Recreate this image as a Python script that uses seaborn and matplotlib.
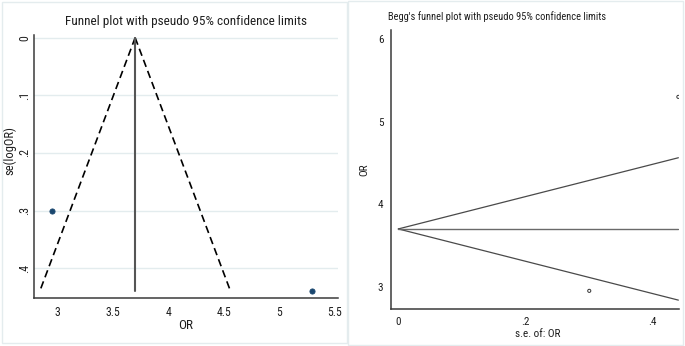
import matplotlib
matplotlib.use("Agg")
import matplotlib.pyplot as plt
import numpy as np
import pandas as pd
import seaborn as sns
from matplotlib.patches import Rectangle

# study-level data (two studies)
odds_ratio = [2.95, 5.30]
se_log_or = [0.30, 0.44]
se_or = [0.30, 0.44]
pooled_or = 3.7

left_xticks = [3, 3.5, 4, 4.5, 5, 5.5]
left_xticklabels = ["3", "3.5", "4", "4.5", "5", "5.5"]
left_yticks = [0, 0.1, 0.2, 0.3, 0.4]
left_yticklabels = ["0", ".1", ".2", ".3", ".4"]
right_xticks = [0, 0.2, 0.4]
right_xticklabels = ["0", ".2", ".4"]
right_yticks = [3, 4, 5, 6]
right_yticklabels = ["3", "4", "5", "6"]

sns.set_theme(style="white")
plt.rcParams["font.family"] = ["Roboto Condensed", "Liberation Sans", "DejaVu Sans"]

df = pd.DataFrame({"OR": odds_ratio, "se_log": se_log_or, "se_or": se_or})

W, H = 685, 346
fig = plt.figure(figsize=(W / 100, H / 100), dpi=100)
fig.patch.set_facecolor("white")

# faint panel frames
fig.add_artist(Rectangle((1.5 / W, 3 / H), 345 / W, 341.5 / H, transform=fig.transFigure,
                         fill=False, edgecolor="#e4ecee", lw=1))
fig.add_artist(Rectangle((348 / W, 1 / H), 335 / W, 344 / H, transform=fig.transFigure,
                         fill=False, edgecolor="#e4ecee", lw=1))

axis_col = "#3a3a3a"
text_col = "#1e1e1e"

# ---------------- left: funnel plot ----------------
ax1 = fig.add_axes([34 / W, (H - 298) / H, 304 / W, 263.2 / H])
se_max = max(se_log_or)
se_line = np.array([0.0, se_max])
for y in left_yticks:
    ax1.axhline(y, color="#e3ecee", lw=1, zorder=0)
ax1.plot(pooled_or - 1.96 * se_line, se_line, color="black", lw=1.2,
         dashes=(4.5, 2.6))
ax1.plot(pooled_or + 1.96 * se_line, se_line, color="black", lw=1.2,
         dashes=(4.5, 2.6))
ax1.plot([pooled_or, pooled_or], se_line, color="#555555", lw=1.5)
sns.scatterplot(data=df, x="OR", y="se_log", ax=ax1, color="#1a476f", s=14,
                edgecolor="#1a476f", linewidth=0.6, zorder=5)
ax1.set_xlim(2.786, 5.533)
ax1.set_ylim(0.4515, -0.005)
ax1.set_xticks(left_xticks)
ax1.set_xticklabels(left_xticklabels)
ax1.set_yticks(left_yticks)
ax1.set_yticklabels(left_yticklabels, rotation=90, va="center")
ax1.set_xlabel("OR", fontsize=9.5)
ax1.set_ylabel("se(logOR)", fontsize=9)
ax1.xaxis.set_label_coords((186 - 34) / 304, (298 - 319) / 263.2)
ax1.yaxis.set_label_coords((16 - 34) / 304, (298 - 151) / 263.2)
ax1.tick_params(labelsize=8.5)
fig.text(186 / W, 1 - 21 / H, "Funnel plot with pseudo 95% confidence limits",
         fontsize=9.5, ha="center", va="center", color=text_col)

# ---------------- right: Begg's funnel plot ----------------
ax2 = fig.add_axes([391 / W, (H - 309) / H, 288 / W, 279 / H])
se_max2 = max(se_or)
se_line2 = np.array([0.0, se_max2])
ax2.plot(se_line2, pooled_or + 1.96 * se_line2, color="#4a4a4a", lw=0.9)
ax2.plot(se_line2, pooled_or - 1.96 * se_line2, color="#4a4a4a", lw=0.9)
ax2.plot(se_line2, [pooled_or, pooled_or], color="#6a6a6a", lw=1.0)
sns.scatterplot(data=df, x="se_or", y="OR", ax=ax2, s=5, facecolor="none",
                edgecolor="#333333", linewidth=0.7, zorder=5)
ax2.set_xlim(-0.0115, 0.441)
ax2.set_ylim(2.73, 6.11)
ax2.set_xticks(right_xticks)
ax2.set_xticklabels(right_xticklabels)
ax2.set_yticks(right_yticks)
ax2.set_yticklabels(right_yticklabels)
ax2.set_xlabel("s.e. of: OR", fontsize=8)
ax2.set_ylabel("OR", fontsize=8)
ax2.xaxis.set_label_coords((538 - 391) / 288, (309 - 329) / 279)
ax2.yaxis.set_label_coords((369 - 391) / 288, 0.5)
ax2.tick_params(labelsize=8)
fig.text(388 / W, 1 - 17 / H, "Begg's funnel plot with pseudo 95% confidence limits",
         fontsize=7.5, ha="left", va="center", color=text_col)

for ax in (ax1, ax2):
    for side in ("top", "right"):
        ax.spines[side].set_visible(False)
    for side in ("left", "bottom"):
        ax.spines[side].set_color(axis_col)
        ax.spines[side].set_linewidth(1.1)
    ax.set_facecolor("white")
    ax.tick_params(axis="both", direction="out", length=3.5, width=1,
                   color=axis_col, pad=2, labelcolor=text_col)
    ax.xaxis.label.set_color(text_col)
    ax.yaxis.label.set_color(text_col)
ax1.tick_params(axis="y", length=3, pad=-1)

fig.savefig("out.png", dpi=100)
